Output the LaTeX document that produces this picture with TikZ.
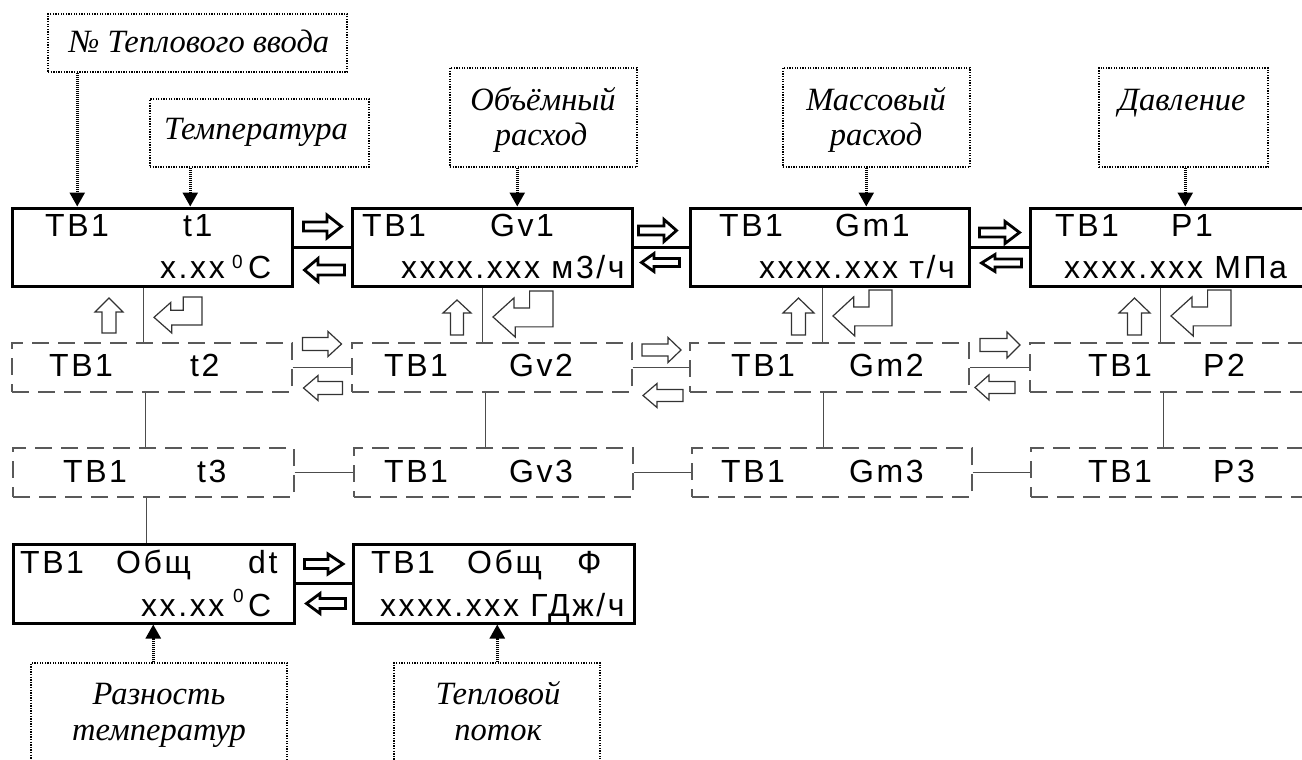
\documentclass[tikz,border=0pt]{standalone}
\usepackage{fontspec}
\setmainfont{Liberation Serif}
\newfontfamily\lcd[LetterSpace=8]{Liberation Sans}
\newfontfamily\lcdsup{Liberation Sans}
\usetikzlibrary{arrows.meta,fit}
\newcommand\HArr[7]{\draw[#1] ({#2},{#5-#6}) -- ({#3},{#5-#6}) -- ({#3},{#5-#7}) -- ({#4},{#5}) -- ({#3},{#5+#7}) -- ({#3},{#5+#6}) -- ({#2},{#5+#6}) -- cycle;}
\newcommand\UArr[7]{\draw[#1] ({#2-#6},{#3}) -- ({#2-#6},{#4}) -- ({#2-#7},{#4}) -- ({#2},{#5}) -- ({#2+#7},{#4}) -- ({#2+#6},{#4}) -- ({#2+#6},{#3}) -- cycle;}
\newcommand\EArr[5]{\draw[#1] ({#2},{#3+0.565*#5}) -- ({#2+0.35*#4},{#3+0.15*#5}) -- ({#2+0.35*#4},{#3+0.37*#5}) -- ({#2+0.61*#4},{#3+0.37*#5}) -- ({#2+0.61*#4},{#3}) -- ({#2+#4},{#3}) -- ({#2+#4},{#3+0.78*#5}) -- ({#2+0.37*#4},{#3+0.78*#5}) -- ({#2+0.37*#4},{#3+#5}) -- cycle;}
\begin{document}
\begin{tikzpicture}[x=1bp,y=-1bp,
  lcdbox/.style={draw, line width=3bp, inner sep=0pt},
  dbox/.style={draw=black!65, line width=1.4bp, dash pattern=on 17bp off 9bp, inner sep=0pt},
  notebox/.style={draw, line width=1.5bp, dash pattern=on 1.3bp off 1.3bp, inner sep=0pt},
  thickcon/.style={line width=3bp},
  thincon/.style={line width=1.3bp, draw=black!70},
  notearrow/.style={line width=2.5bp, dash pattern=on 1.2bp off 0.8bp, -{Triangle[length=14bp,width=15bp]}},
  bigarr/.style={draw, fill=white, line width=2.8bp, line join=miter},
  smallarr/.style={draw=black!80, fill=white, line width=1.2bp, line join=miter},
  lt/.style={inner sep=0pt, anchor=base west, font=\lcd\fontsize{32bp}{32bp}\selectfont},
  degsup/.style={inner sep=0pt, anchor=base west, font=\lcdsup\fontsize{19bp}{19bp}\selectfont},
  nt/.style={inner sep=0pt, anchor=base, font=\itshape\fontsize{32.5bp}{32.5bp}\selectfont}]
\useasboundingbox (0,0) rectangle (1302,759);
\fill[white] (0,0) rectangle (1302,759);
\begin{scope}
\clip (0,0) rectangle (1302,759);
% ---------- main row boxes
\node[lcdbox, fit={(12,208)(292,286)}] (b1) {};
\node[lcdbox, fit={(352,208)(632,286)}] (b2) {};
\node[lcdbox, fit={(690,208)(969,286)}] (b3) {};
\node[lcdbox, fit={(1030,208)(1325,286)}] (b4) {};
% ---------- dashed rows
\node[dbox, fit={(12,343)(292,392)}] (c1) {};
\node[dbox, fit={(352,343)(632,392)}] (c2) {};
\node[dbox, fit={(690,343)(969,392)}] (c3) {};
\node[dbox, fit={(1030,343)(1325,392)}] (c4) {};
\node[dbox, fit={(13,448)(294,497)}] (d1) {};
\node[dbox, fit={(354,448)(633,497)}] (d2) {};
\node[dbox, fit={(692,448)(972,497)}] (d3) {};
\node[dbox, fit={(1031,448)(1325,497)}] (d4) {};
% ---------- bottom boxes
\node[lcdbox, fit={(13,544)(294,623)}] (e1) {};
\node[lcdbox, fit={(353,544)(634,623)}] (e2) {};
% ---------- note boxes
\node[notebox, fit={(48,14)(347,72)}] (n1) {};
\node[notebox, fit={(150,99)(369,167)}] (n2) {};
\node[notebox, fit={(450,68)(637,167)}] (n3) {};
\node[notebox, fit={(783,68)(970,167)}] (n4) {};
\node[notebox, fit={(1099,68)(1268,167)}] (n5) {};
\node[notebox, fit={(31,663)(287,790)}] (n6) {};
\node[notebox, fit={(394,663)(600,790)}] (n7) {};
% ---------- note texts
\node[nt] (tn1) at (199,53) {№ Теплового ввода};
\node[nt] (tn2) at (256,139) {Температура};
\node[nt] (tn3a) at (543,110) {Объёмный};
\node[nt] (tn3b) at (541,145) {расход};
\node[nt] (tn4a) at (876,110) {Массовый};
\node[nt] (tn4b) at (876,145) {расход};
\node[nt] (tn5) at (1182,110) {Давление};
\node[nt] (tn6a) at (159,704) {Разность};
\node[nt] (tn6b) at (159,740) {температур};
\node[nt] (tn7a) at (498,704) {Тепловой};
\node[nt] (tn7b) at (498,740) {поток};
% ---------- note arrows
\draw[notearrow] ([xshift=30bp]n1.south west) -- ([xshift=30bp]n1.south west |- b1.north);
\draw[notearrow] ([xshift=41bp]n2.south west) -- ([xshift=41bp]n2.south west |- b1.north);
\draw[notearrow] ([xshift=68bp]n3.south west) -- ([xshift=68bp]n3.south west |- b2.north);
\draw[notearrow] ([xshift=84bp]n4.south west) -- ([xshift=84bp]n4.south west |- b3.north);
\draw[notearrow] ([xshift=87bp]n5.south west) -- ([xshift=87bp]n5.south west |- b4.north);
\draw[notearrow] ([xshift=123bp]n6.north west) -- ([xshift=123bp]n6.north west |- e1.south);
\draw[notearrow] ([xshift=104bp]n7.north west) -- ([xshift=104bp]n7.north west |- e2.south);
% ---------- connectors
\draw[thickcon] (b1.east) -- (b2.west);
\draw[thickcon] (b2.east) -- (b3.west);
\draw[thickcon] (b3.east) -- (b4.west);
\draw[thickcon] (e1.east) -- (e2.west);
\draw[thincon] (c1.east) -- (c2.west);
\draw[thincon] (c2.east) -- (c3.west);
\draw[thincon] (c3.east) -- (c4.west);
\draw[thincon] (d1.east) -- (d2.west);
\draw[thincon] (d2.east) -- (d3.west);
\draw[thincon] (d3.east) -- (d4.west);
\draw[thincon] ([xshift=133bp]b1.south west) -- ([xshift=133bp]b1.south west |- c1.north);
\draw[thincon] ([xshift=132bp]b2.south west) -- ([xshift=132bp]b2.south west |- c2.north);
\draw[thincon] ([xshift=134bp]b3.south west) -- ([xshift=134bp]b3.south west |- c3.north);
\draw[thincon] ([xshift=132bp]b4.south west) -- ([xshift=132bp]b4.south west |- c4.north);
\draw[thincon] ([xshift=134bp]c1.south west) -- ([xshift=134bp]c1.south west |- d1.north);
\draw[thincon] ([xshift=134bp]c2.south west) -- ([xshift=134bp]c2.south west |- d2.north);
\draw[thincon] ([xshift=134bp]c3.south west) -- ([xshift=134bp]c3.south west |- d3.north);
\draw[thincon] ([xshift=134bp]c4.south west) -- ([xshift=134bp]c4.south west |- d4.north);
\draw[thincon] ([xshift=134bp]d1.south west) -- ([xshift=134bp]d1.south west |- e1.north);
% ---------- big block arrows (top row, bottom row)
\HArr{bigarr}{303.5}{327}{341.5}{226.5}{4.5}{11.5}
\HArr{bigarr}{344.5}{318}{304.5}{270}{5}{11.5}
\HArr{bigarr}{638.5}{664}{676.5}{230.5}{4.5}{11}
\HArr{bigarr}{679.5}{654}{641.5}{262.5}{4}{9}
\HArr{bigarr}{979.5}{1005}{1019.5}{232.5}{4.5}{11}
\HArr{bigarr}{1021.5}{995}{981.5}{263}{4}{8.5}
\HArr{bigarr}{304.5}{328}{343}{564}{4.5}{10}
\HArr{bigarr}{345.5}{320}{306.5}{603.5}{5}{10}
% ---------- small block arrows (row 2)
\HArr{smallarr}{302.5}{328}{341.5}{344}{6.5}{12.5}
\HArr{smallarr}{342.5}{318}{303.5}{388}{6.5}{12.5}
\HArr{smallarr}{642}{668}{681}{350}{6}{12.5}
\HArr{smallarr}{683}{657}{643}{395.5}{6}{12}
\HArr{smallarr}{980}{1007}{1020}{345}{6.5}{13}
\HArr{smallarr}{1015}{989}{975}{387.5}{6}{12.5}
% ---------- up arrows
\UArr{smallarr}{109}{333}{312}{298}{7}{14}
\UArr{smallarr}{457}{335}{313}{300}{6.5}{14}
\UArr{smallarr}{798.5}{335}{313}{298}{7}{15.5}
\UArr{smallarr}{1134.5}{335}{313}{298}{7}{15.5}
% ---------- enter arrows
\EArr{smallarr}{154}{297}{48}{36}
\EArr{smallarr}{493}{291}{60}{46}
\EArr{smallarr}{833}{290}{59}{46}
\EArr{smallarr}{1171}{290}{60}{46}
% ---------- texts row 1
\node[lt] (t11) at (45,236) {ТВ1};
\node[lt] (t12) at (183,236) {t1};
\node[lt] (t13) at (160,278) {x.xx};
\node[degsup] (t14) at (232,268) {0};
\node[lt] (t15) at (248,278) {C};
\node[lt] (t21) at (362,236) {ТВ1};
\node[lt] (t22) at (490,236) {Gv1};
\node[lt] (t23) at (401,278) {xxxx.xxx м3/ч};
\node[lt] (t31) at (719,236) {ТВ1};
\node[lt] (t32) at (835,236) {Gm1};
\node[lt] (t33) at (759,278) {xxxx.xxx т/ч};
\node[lt] (t41) at (1055,236) {ТВ1};
\node[lt] (t42) at (1171,236) {P1};
\node[lt] (t43) at (1064,278) {xxxx.xxx МПа};
% ---------- texts row 2
\node[lt] (u11) at (49,376) {ТВ1};
\node[lt] (u12) at (190,376) {t2};
\node[lt] (u21) at (384,376) {ТВ1};
\node[lt] (u22) at (509,376) {Gv2};
\node[lt] (u31) at (731,376) {ТВ1};
\node[lt] (u32) at (849,376) {Gm2};
\node[lt] (u41) at (1088,376) {ТВ1};
\node[lt] (u42) at (1203,376) {P2};
% ---------- texts row 3
\node[lt] (v11) at (63,482) {ТВ1};
\node[lt] (v12) at (197,482) {t3};
\node[lt] (v21) at (384,482) {ТВ1};
\node[lt] (v22) at (509,482) {Gv3};
\node[lt] (v31) at (721,482) {ТВ1};
\node[lt] (v32) at (849,482) {Gm3};
\node[lt] (v41) at (1088,482) {ТВ1};
\node[lt] (v42) at (1213,482) {P3};
% ---------- texts bottom row
\node[lt] (w11) at (20,573) {ТВ1};
\node[lt] (w12) at (116,573) {Общ};
\node[lt] (w13) at (248,573) {dt};
\node[lt] (w14) at (141,616) {xx.xx};
\node[degsup] (w15) at (233,602) {0};
\node[lt] (w16) at (248,616) {C};
\node[lt] (w21) at (371,573) {ТВ1};
\node[lt] (w22) at (467,573) {Общ};
\node[lt] (w23) at (577,573) {Ф};
\node[lt] (w24) at (380,616) {xxxx.xxx ГДж/ч};
\end{scope}
\end{tikzpicture}
\end{document}
